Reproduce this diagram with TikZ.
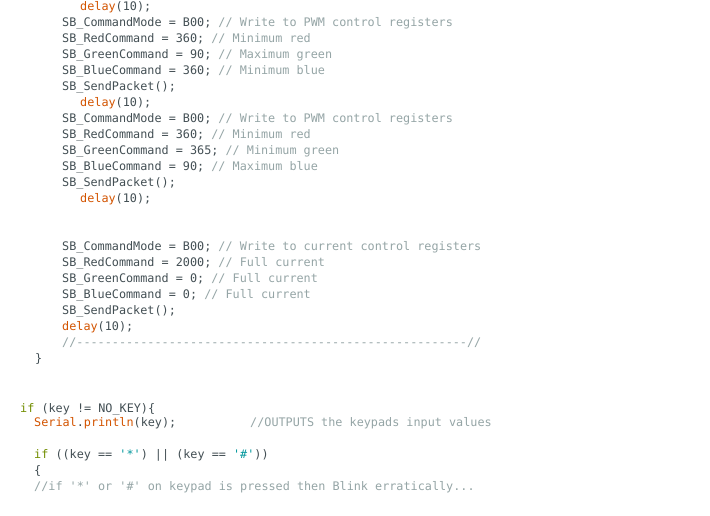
\documentclass[tikz,border=0pt]{standalone}
\usepackage{fontspec}
\setmonofont{DejaVu Sans Mono}
\usepackage{xcolor}
\definecolor{codetext}{HTML}{434F54}
\definecolor{codefunc}{HTML}{D35400}
\definecolor{codecomment}{HTML}{95A5A6}
\definecolor{codekey}{HTML}{728E00}
\definecolor{codestr}{HTML}{00979C}
\newcommand{\cmt}[1]{\textcolor{codecomment}{#1}}
\newcommand{\fn}[1]{\textcolor{codefunc}{#1}}
\newcommand{\kw}[1]{\textcolor{codekey}{#1}}
\newcommand{\str}[1]{\textcolor{codestr}{#1}}
\tikzset{code/.style={anchor=west, inner sep=0pt, text=codetext,
  font=\ttfamily\fontsize{11.8}{14}\selectfont}}

\begin{document}
\begin{tikzpicture}[x=1pt, y=-1pt]
\fill[white] (0,0) rectangle (710,515);
\useasboundingbox (0,0) rectangle (710,515);
% first PWM block
\node[code] (d1) at (80,7) {\fn{delay}(10);};
\node[code] (m1) at (62,23) {SB\_CommandMode = B00; \cmt{// Write to PWM control registers}};
\node[code] (r1) at (62,39) {SB\_RedCommand = 360; \cmt{// Minimum red}};
\node[code] (g1) at (62,55) {SB\_GreenCommand = 90; \cmt{// Maximum green}};
\node[code] (b1) at (62,71) {SB\_BlueCommand = 360; \cmt{// Minimum blue}};
\node[code] (s1) at (62,87) {SB\_SendPacket();};
\node[code] (d2) at (80,103) {\fn{delay}(10);};
% second PWM block
\node[code] (m2) at (62,119) {SB\_CommandMode = B00; \cmt{// Write to PWM control registers}};
\node[code] (r2) at (62,135) {SB\_RedCommand = 360; \cmt{// Minimum red}};
\node[code] (g2) at (62,151) {SB\_GreenCommand = 365; \cmt{// Minimum green}};
\node[code] (b2) at (62,167) {SB\_BlueCommand = 90; \cmt{// Maximum blue}};
\node[code] (s2) at (62,183) {SB\_SendPacket();};
\node[code] (d3) at (80,199) {\fn{delay}(10);};
% current block
\node[code] (m3) at (62,247) {SB\_CommandMode = B00; \cmt{// Write to current control registers}};
\node[code] (r3) at (62,263) {SB\_RedCommand = 2000; \cmt{// Full current}};
\node[code] (g3) at (62,279) {SB\_GreenCommand = 0; \cmt{// Full current}};
\node[code] (b3) at (62,295) {SB\_BlueCommand = 0; \cmt{// Full current}};
\node[code] (s3) at (62,311) {SB\_SendPacket();};
\node[code] (d4) at (62,327) {\fn{delay}(10);};
\node[code] (rule) at (62,343) {\cmt{//-------------------------------------------------------//}};
\node[code] (close) at (35,359) {\}};
% keypad part
\node[code] (if1) at (20,409) {\kw{if} (key != NO\_KEY)\{};
\node[code] (ser) at (34,423) {\fn{Serial}.\fn{println}(key);};
\node[code] (serc) at (250,423) {\cmt{//OUTPUTS the keypads input values}};
\node[code] (if2) at (34,455) {\kw{if} ((key == \str{'*'}) || (key == \str{'\#'}))};
\node[code] (open) at (34,471) {\{};
\node[code] (c2) at (34,487) {\cmt{//if '*' or '\#' on keypad is pressed then Blink erratically...}};
\end{tikzpicture}
\end{document}
